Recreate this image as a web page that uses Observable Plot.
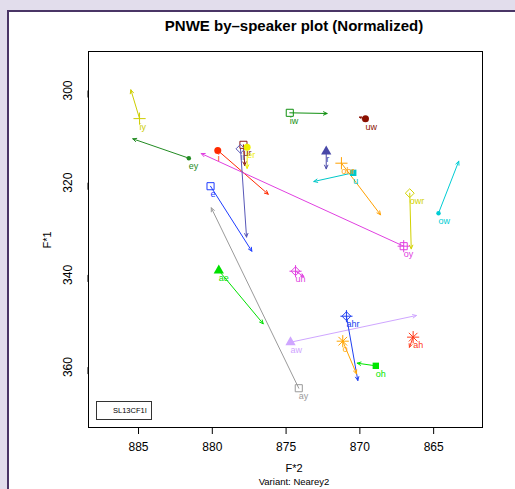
<!DOCTYPE html>
<html>
<head>
<meta charset="utf-8">
<script src="https://cdn.jsdelivr.net/npm/d3@7"></script>
<script src="https://cdn.jsdelivr.net/npm/@observablehq/plot@0.6"></script>
<style>
  html, body { margin: 0; padding: 0; width: 515px; height: 489px; overflow: hidden; background: #e2ddec; font-family: "Liberation Sans", Arial, Helvetica, sans-serif; }
  #panel { position: absolute; left: 7px; top: 10px; width: 520px; height: 490px; background: #fff; border-left: 2px solid #4a3566; border-top: 2px solid #4a3566; }
  #chart { position: absolute; left: 0; top: 0; }
  .t { position: absolute; white-space: nowrap; color: #000; }
  #title { left: 294px; top: 17px; transform: translateX(-50%); font-weight: bold; font-size: 15px; }
  #xlab { left: 294px; top: 462px; transform: translateX(-50%); font-size: 11px; }
  #sub { left: 294px; top: 476px; transform: translateX(-50%); font-size: 9.5px; }
  #ylab { left: 47px; top: 240px; transform: translate(-50%, -50%) rotate(-90deg); font-size: 11px; }
  #leg { position: absolute; left: 96px; top: 401px; width: 54px; height: 17px; border: 1px solid #333; background: #fff; font-size: 7.5px; }
  #leg span { position: absolute; left: 16px; top: 4px; }
</style>
</head>
<body>
<div id="panel"></div>
<div id="chart"></div>
<div class="t" id="title">PNWE by–speaker plot (Normalized)</div>
<div class="t" id="xlab">F*2</div>
<div class="t" id="sub">Variant: Nearey2</div>
<div class="t" id="ylab">F*1</div>
<div id="leg"><span>SL13CF1I</span></div>
<script>
// vowel categories
const vowels = ["iy","ey","i","e","ae","ay","oy","aw","iw","uw","u","ow","owr","ohr","r","ir","ur","er","uh","ahr","o","oh","ah"];
// normalized F*2 / F*1 at onset and offset
const f2Start = [884.93,881.59,879.63,880.12,879.56,874.14,867.03,874.70,874.75,869.62,870.45,864.67,866.62,871.25,872.28,878.09,877.89,877.64,874.36,870.91,871.16,868.92,866.39];
const f1Start = [306.1,314.68,313.0,320.76,339.05,364.58,333.77,354.6,304.84,306.14,317.85,326.61,322.28,315.77,313.23,312.65,311.78,312.3,339.2,348.96,354.38,359.72,353.5];
const f2End   = [885.52,885.39,876.21,877.32,876.55,880.07,880.75,866.17,872.22,870.03,873.12,863.30,866.52,868.60,872.28,877.68,877.80,877.64,873.80,870.14,870.23,870.18,866.64];
const f1End   = [299.85,310.48,322.5,334.86,350.61,325.45,313.67,348.81,304.99,305.79,319.74,315.34,334.34,326.96,316.98,331.8,316.27,316.9,340.35,362.9,361.45,359.15,355.7];
// tick labels
const xTicks = [885,880,875,870,865];
const yTicks = [300,320,340,360];
// styles (palette and symbol kinds, aligned with vowels)
const vowelColors = ["#cdcd00","#228b22","#ff2a00","#1e3cff","#00e000","#9a9a9a","#e040e0","#cfa6ff","#109010","#8b1000","#00c8c8","#00cdd4","#d2d200","#ffa000","#4848a8","#5858b8","#8b1a1a","#f0f000","#e040e0","#2040f0","#ffa500","#00e600","#ff3a1a"];
const symbolKinds = ["plus","dot","circle","square","triangle","square","squareplus","triangle","square","circle","fsquare","dot","diamond","plus","triangle","diamond","square","circle","diamondplus","diamondplus","asterisk","fsquare","asterisk"];

const rows = vowels.map((v, i) => ({vowel: v, f2s: f2Start[i], f1s: f1Start[i], f2e: f2End[i], f1e: f1End[i], kind: symbolKinds[i]}));
const of = (...kinds) => rows.filter(d => kinds.includes(d.kind));
const P = {x: "f2s", y: "f1s"};

const chart = Plot.plot({
  width: 515, height: 489,
  marginLeft: 88, marginRight: 33, marginTop: 51, marginBottom: 62,
  style: {background: "transparent", fontFamily: "'Liberation Sans', Arial, Helvetica, sans-serif", color: "#000", overflow: "visible"},
  x: {domain: [888.39, 861.69]},
  y: {domain: [373.1, 291.54]},
  color: {domain: vowels, range: vowelColors},
  marks: [
    Plot.frame({stroke: "#000", strokeWidth: 1}),
    Plot.axisX({ticks: xTicks, tickSize: 7, tickPadding: 8, fontSize: 12, label: null, tickFormat: d => String(d)}),
    Plot.axisY({ticks: yTicks, tickSize: 7, tickPadding: 13, fontSize: 12, label: null, rotate: -90, textAnchor: "middle", tickFormat: d => String(d)}),
    Plot.arrow(rows, {x1: "f2s", y1: "f1s", x2: "f2e", y2: "f1e", stroke: "vowel", strokeWidth: 1, headLength: 6, headAngle: 50}),
    Plot.dot(of("square","squareplus"), {...P, symbol: "square", r: 4, fill: "none", stroke: "vowel", strokeWidth: 1}),
    Plot.dot(of("diamond","diamondplus"), {...P, symbol: "diamond2", r: 4, fill: "none", stroke: "vowel", strokeWidth: 1}),
    Plot.dot(of("plus","squareplus","diamondplus","asterisk"), {...P, symbol: "plus", r: 4, fill: "none", stroke: "vowel", strokeWidth: 1}),
    Plot.dot(of("asterisk"), {...P, symbol: "times", r: 4, fill: "none", stroke: "vowel", strokeWidth: 1}),
    Plot.dot(of("circle"), {...P, symbol: "circle", r: 3.5, fill: "vowel", stroke: "none"}),
    Plot.dot(of("dot"), {...P, symbol: "circle", r: 2.2, fill: "vowel", stroke: "none"}),
    Plot.dot(of("fsquare"), {...P, symbol: "square", r: 3.6, fill: "vowel", stroke: "none"}),
    Plot.dot(of("triangle"), {...P, symbol: "triangle", r: 3.8, fill: "vowel", stroke: "none"}),
    Plot.text(rows, {...P, text: "vowel", fill: "vowel", textAnchor: "start", dx: 0, dy: 8, fontSize: 9})
  ]
});
document.getElementById("chart").appendChild(chart);
</script>
</body>
</html>
